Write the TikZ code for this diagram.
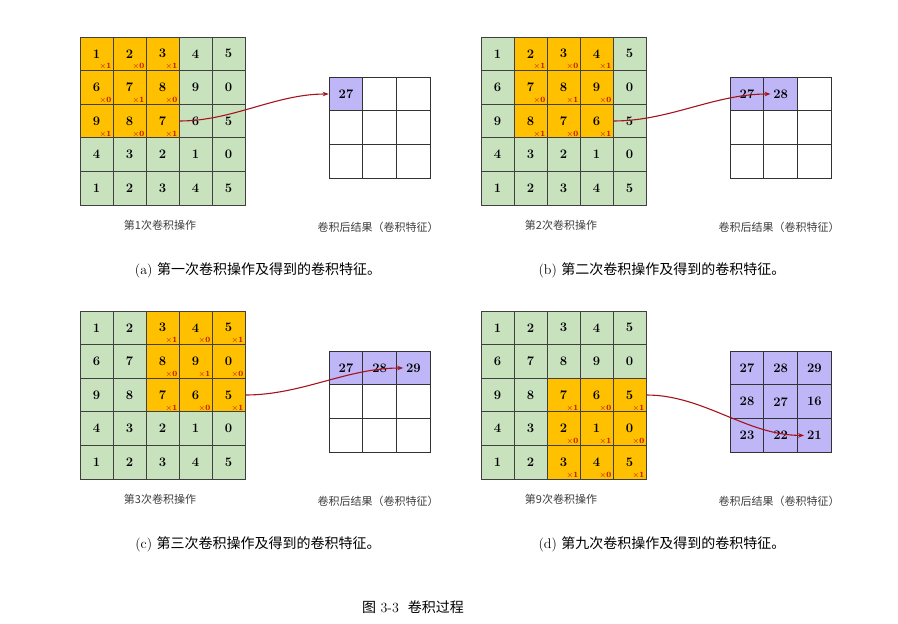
\documentclass[tikz,border=0pt]{standalone}
\usepackage{fontspec}
\newfontfamily\cjk{Noto Sans CJK SC}
\usetikzlibrary{positioning, arrows.meta}
\definecolor{ingreen}{RGB}{200,226,190}
\definecolor{winorange}{RGB}{255,192,0}
\definecolor{respurple}{RGB}{190,182,246}
\definecolor{arrowred}{RGB}{165,20,30}
\definecolor{captext}{RGB}{60,60,60}
\tikzset{
  incell/.style = {draw=black!75, line width=0.8pt, minimum width=33pt, minimum height=33.6pt,
                   inner sep=0pt, font=\fontsize{13}{13}\selectfont\bfseries},
  rescell/.style = {draw=black!80, line width=0.8pt, minimum width=33.7pt, minimum height=33.7pt,
                    inner sep=0pt, font=\fontsize{13}{13}\selectfont\bfseries},
  weight/.style = {text=red!75!black, font=\fontsize{8}{8}\selectfont\bfseries, inner sep=1pt},
  smallcap/.style = {text=captext, font=\cjk\fontsize{11}{11}\selectfont},
  subcap/.style = {font=\fontsize{14}{14}\selectfont},
  convarrow/.style = {draw=arrowred, line width=1.1pt, -{Stealth[length=6pt]}}
}
% #1 prefix, #2 x, #3 y, #4 window col, #5 window row, #6 filled results, #7 result values, #8 step text
\newcommand{\convpanel}[8]{%
  \foreach \v [count=\k from 0] in {1,2,3,4,5,6,7,8,9,0,9,8,7,6,5,4,3,2,1,0,1,2,3,4,5}{
    \pgfmathtruncatemacro\r{int(\k/5)}
    \pgfmathtruncatemacro\c{mod(\k,5)}
    \pgfmathtruncatemacro\inwin{(\c>=#4)&&(\c<#4+3)&&(\r>=#5)&&(\r<#5+3)}
    \ifnum\inwin=1
      \node[incell, fill=winorange] (#1-\r-\c) at (#2+16.5+33*\c, #3+16.8+33.6*\r) {\v};
      \pgfmathtruncatemacro\w{mod(\r-#5+\c-#4+1,2)}
      \node[weight, anchor=south east] at ([xshift=-1pt]#1-\r-\c.south east) {$\times$\w};
    \else
      \node[incell, fill=ingreen] (#1-\r-\c) at (#2+16.5+33*\c, #3+16.8+33.6*\r) {\v};
    \fi
  }
  \foreach \v [count=\k from 0] in {#7}{
    \pgfmathtruncatemacro\r{int(\k/3)}
    \pgfmathtruncatemacro\c{mod(\k,3)}
    \ifnum\k<#6
      \node[rescell, fill=respurple] (#1-res-\k) at (#2+266+33.7*\c, #3+57+33.7*\r) {\v};
    \else
      \node[rescell] (#1-res-\k) at (#2+266+33.7*\c, #3+57+33.7*\r) {};
    \fi
  }
  \node[smallcap] (#1-op) at (#2+80, #3+188) {#8};
  \node[smallcap] (#1-result) at (#2+298, #3+190) {卷积后结果（卷积特征）};
}
\begin{document}
\begin{tikzpicture}[x=1pt, y=-1pt]
  \useasboundingbox (0,0) rectangle (898,624);
  % panel (a)
  \convpanel{a}{80}{37}{0}{0}{1}{27,,,,,,,,}{第1次卷积操作}
  \draw[convarrow] (a-2-2.east) to[out=0, in=180, looseness=0.9] (a-res-0.west);
  \node[subcap] (cap-a) at (258,270) {(a) {\cjk 第一次卷积操作及得到的卷积特征。}};
  % panel (b)
  \convpanel{b}{481}{37}{1}{0}{2}{27,28,,,,,,,}{第2次卷积操作}
  \draw[convarrow] (b-2-3.east) to[out=0, in=180, looseness=0.9] ([xshift=7pt]b-res-1.west);
  \node[subcap] (cap-b) at (662,270) {(b) {\cjk 第二次卷积操作及得到的卷积特征。}};
  % panel (c)
  \convpanel{c}{80}{311}{2}{0}{3}{27,28,29,,,,,,}{第3次卷积操作}
  \draw[convarrow] (c-2-4.east) to[out=0, in=180, looseness=0.9] ([xshift=7pt]c-res-2.west);
  \node[subcap] (cap-c) at (258,544) {(c) {\cjk 第三次卷积操作及得到的卷积特征。}};
  % panel (d)
  \convpanel{d}{481}{311}{2}{2}{9}{27,28,29,28,27,16,23,22,21}{第9次卷积操作}
  \draw[convarrow] (d-2-4.east) to[out=0, in=180, looseness=0.9] ([xshift=7pt]d-res-8.west);
  \node[subcap] (cap-d) at (662,544) {(d) {\cjk 第九次卷积操作及得到的卷积特征。}};
  % figure caption
  \node[font=\fontsize{14}{14}\selectfont] (fig) at (413,607) {{\cjk 图} 3-3\ \ {\cjk 卷积过程}};
\end{tikzpicture}
\end{document}
